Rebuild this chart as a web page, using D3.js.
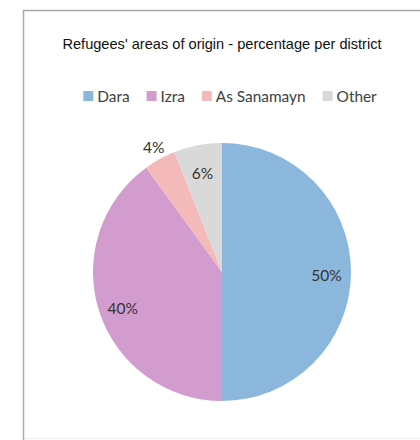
<!DOCTYPE html>
<html>
<head>
<meta charset="utf-8">
<script src="https://cdn.jsdelivr.net/npm/d3@7"></script>
<style>
  html, body { margin: 0; padding: 0; background: #fff; overflow: hidden; }
  svg { display: block; }
</style>
</head>
<body>
<svg id="chart" width="420" height="440"></svg>
<script>
// Share of refugees by district of origin
const categories = ["Dara", "Izra", "As Sanamayn", "Other"];
const values = [50, 40, 4, 6];
const colors = ["#8bb7dc", "#d39ccf", "#f4b9b9", "#d9d9d9"];
const title = "Refugees' areas of origin - percentage per district";

const svg = d3.select("#chart");
const W = 420, H = 440;

// chart frame: left and top edges, faint bottom edge
svg.append("path")
  .attr("d", `M23.5,${H}V10.5H${W}`)
  .attr("fill", "none")
  .attr("stroke", "#ababab").attr("stroke-width", 1.5);
svg.append("line")
  .attr("x1", 24).attr("x2", W).attr("y1", 438.5).attr("y2", 438.5)
  .attr("stroke", "#eeeeee").attr("stroke-width", 1);

svg.append("text")
  .attr("x", 222).attr("y", 49)
  .attr("text-anchor", "middle")
  .attr("font-family", "Liberation Sans, Arial, sans-serif")
  .attr("font-size", 14.6)
  .attr("fill", "#111")
  .text(title);

// legend
const legendFont = "Lato, 'Open Sans', sans-serif";
const legend = svg.append("g").attr("transform", "translate(0,96)");
const items = legend.selectAll("g").data(categories).join("g");
items.append("rect").attr("x", 0).attr("y", -5).attr("width", 10).attr("height", 10)
  .attr("fill", (d, i) => colors[i]);
items.append("text").attr("x", 14).attr("y", 5.5)
  .attr("font-family", legendFont).attr("font-size", 15.4).attr("fill", "#404040")
  .text(d => d);
let lx = 0;
const offsets = [];
items.each(function() {
  offsets.push(lx);
  lx += 14 + d3.select(this).select("text").node().getComputedTextLength() + 17;
});
const legendW = lx - 17;
const startX = 230 - legendW / 2;
items.attr("transform", (d, i) => `translate(${startX + offsets[i]},0)`);

// pie
const cx = 222, cy = 272, r = 129;
const pie = d3.pie().sort(null).value(d => d)(values);
const arc = d3.arc().innerRadius(0).outerRadius(r);
const g = svg.append("g").attr("transform", `translate(${cx},${cy})`);
g.selectAll("path").data(pie).join("path")
  .attr("d", arc)
  .attr("fill", (d, i) => colors[i]);

// data labels: inside for larger slices, just outside for small ones
const inner = d3.arc().innerRadius(r * 0.81).outerRadius(r * 0.81);
const outer = d3.arc().innerRadius(r * 1.1).outerRadius(r * 1.1);
g.selectAll("text.lbl").data(pie).join("text")
  .attr("class", "lbl")
  .attr("transform", d => {
    const small = d.data < 5;
    const [x, y] = (small ? outer : inner).centroid(d);
    return `translate(${x},${small ? y : y + 4})`;
  })
  .attr("text-anchor", "middle")
  .attr("dy", "0.35em")
  .attr("font-family", legendFont)
  .attr("font-size", 15.5)
  .attr("fill", "#333")
  .text(d => d.data + "%");
</script>
</body>
</html>
